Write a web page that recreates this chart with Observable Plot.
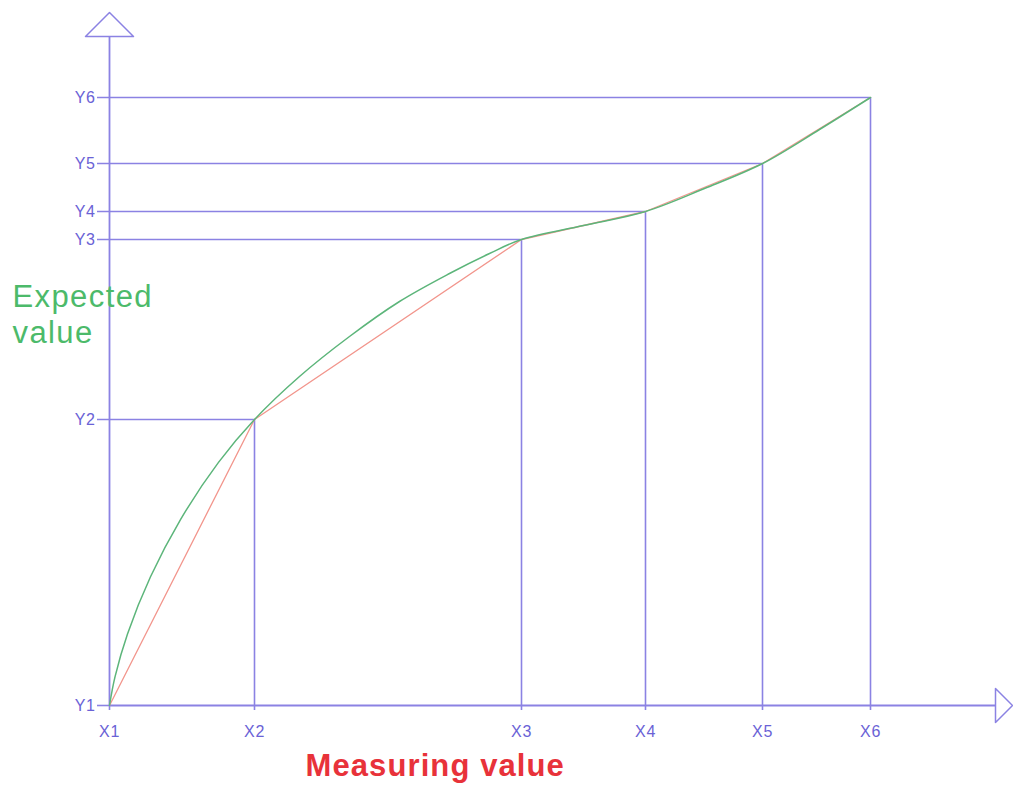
<!DOCTYPE html>
<html>
<head>
<meta charset="utf-8">
<script src="https://cdn.jsdelivr.net/npm/d3@7"></script>
<script src="https://cdn.jsdelivr.net/npm/@observablehq/plot@0.6"></script>
<style>
  html, body { margin: 0; padding: 0; background: #ffffff; }
  #chart svg { display: block; }
</style>
</head>
<body>
<div id="chart"></div>
<script>
// Calibration points (measured x, expected y)
const xLabels = ["X1", "X2", "X3", "X4", "X5", "X6"];
const yLabels = ["Y1", "Y2", "Y3", "Y4", "Y5", "Y6"];
const xValues = [0, 145, 412, 536, 653, 761];
const yValues = [0, 286, 466, 494, 542, 608];

// Expected-value curve samples
const curveX = [0, 5.5, 18, 41, 71, 109, 145, 190, 240, 290, 340, 380, 412, 474, 536, 595, 653, 710, 761];
const curveY = [0, 28.6, 71.5, 128.7, 185.9, 243.1, 286, 329, 369, 404, 432, 452, 466, 480, 494, 517, 542, 576, 608];

// Axis extents and arrowheads (closed triangles)
const xAxisEnd = 886, xArrowTip = 903, xArrowHalf = 17;
const yAxisEnd = 669, yArrowTip = 693, yArrowHalf = 24;

const points = xValues.map((x, i) => ({x, y: yValues[i], xl: xLabels[i], yl: yLabels[i]}));
const curve = curveX.map((x, i) => ({x, y: curveY[i]}));

const lineColor = "#8b82e3";
const textColor = "#6a62d6";

const xArrow = [
  {x: xAxisEnd, y: -xArrowHalf}, {x: xArrowTip, y: 0}, {x: xAxisEnd, y: xArrowHalf}, {x: xAxisEnd, y: -xArrowHalf}
];
const yArrow = [
  {x: -yArrowHalf, y: yAxisEnd}, {x: 0, y: yArrowTip}, {x: yArrowHalf, y: yAxisEnd}, {x: -yArrowHalf, y: yAxisEnd}
];

const chart = Plot.plot({
  width: 1013,
  height: 785,
  marginLeft: 109,
  marginRight: 0,
  marginTop: 0,
  marginBottom: 80,
  style: {fontFamily: "'Liberation Sans', Arial, sans-serif", background: "#ffffff", overflow: "visible"},
  x: {domain: [0, 904], axis: null},
  y: {domain: [0, 705], axis: null},
  marks: [
    // guide lines
    Plot.ruleY(points, {y: "y", x1: -12, x2: "x", stroke: lineColor, strokeWidth: 1.6}),
    Plot.ruleX(points, {x: "x", y1: -5, y2: "y", stroke: lineColor, strokeWidth: 1.6}),
    // axes
    Plot.ruleY([0], {x1: 0, x2: xAxisEnd, stroke: lineColor, strokeWidth: 1.8}),
    Plot.ruleX([0], {y1: 0, y2: yAxisEnd, stroke: lineColor, strokeWidth: 1.8}),
    Plot.line(xArrow, {x: "x", y: "y", stroke: lineColor, strokeWidth: 1.5, fill: "none"}),
    Plot.line(yArrow, {x: "x", y: "y", stroke: lineColor, strokeWidth: 1.5, fill: "none"}),
    // measured (piecewise linear) and expected (smooth) curves
    Plot.line(points, {x: "x", y: "y", stroke: "#f2958c", strokeWidth: 1.3}),
    Plot.line(curve, {x: "x", y: "y", curve: "catmull-rom", stroke: "#5cb57a", strokeWidth: 1.5}),
    // tick labels
    Plot.text(points, {x: "x", y: 0, text: "xl", dy: 26, fill: textColor, fontSize: 16, textAnchor: "middle"}),
    Plot.text(points, {x: 0, y: "y", text: "yl", dx: -14, fill: textColor, fontSize: 16, textAnchor: "end"}),
    // axis titles
    Plot.text(["Expected\nvalue"], {frameAnchor: "top-left", dx: -97, dy: 281, fill: "#4cba6a", fontSize: 31, textAnchor: "start", lineHeight: 1.16}),
    Plot.text(["Measuring value"], {frameAnchor: "bottom-left", dx: 196, dy: 70, fill: "#e8323a", fontSize: 31, fontWeight: "bold", textAnchor: "start"})
  ]
});

// slightly wider lettering, as in the reference
d3.select(chart).selectAll("text").each(function() {
  const t = this.textContent;
  if (t.startsWith("Expected") || t === "value") d3.select(this).attr("letter-spacing", 1.4);
  else if (t === "Measuring value") d3.select(this).attr("letter-spacing", 1.1);
  else d3.select(this).attr("letter-spacing", 0.6);
});

document.getElementById("chart").appendChild(chart);
</script>
</body>
</html>
